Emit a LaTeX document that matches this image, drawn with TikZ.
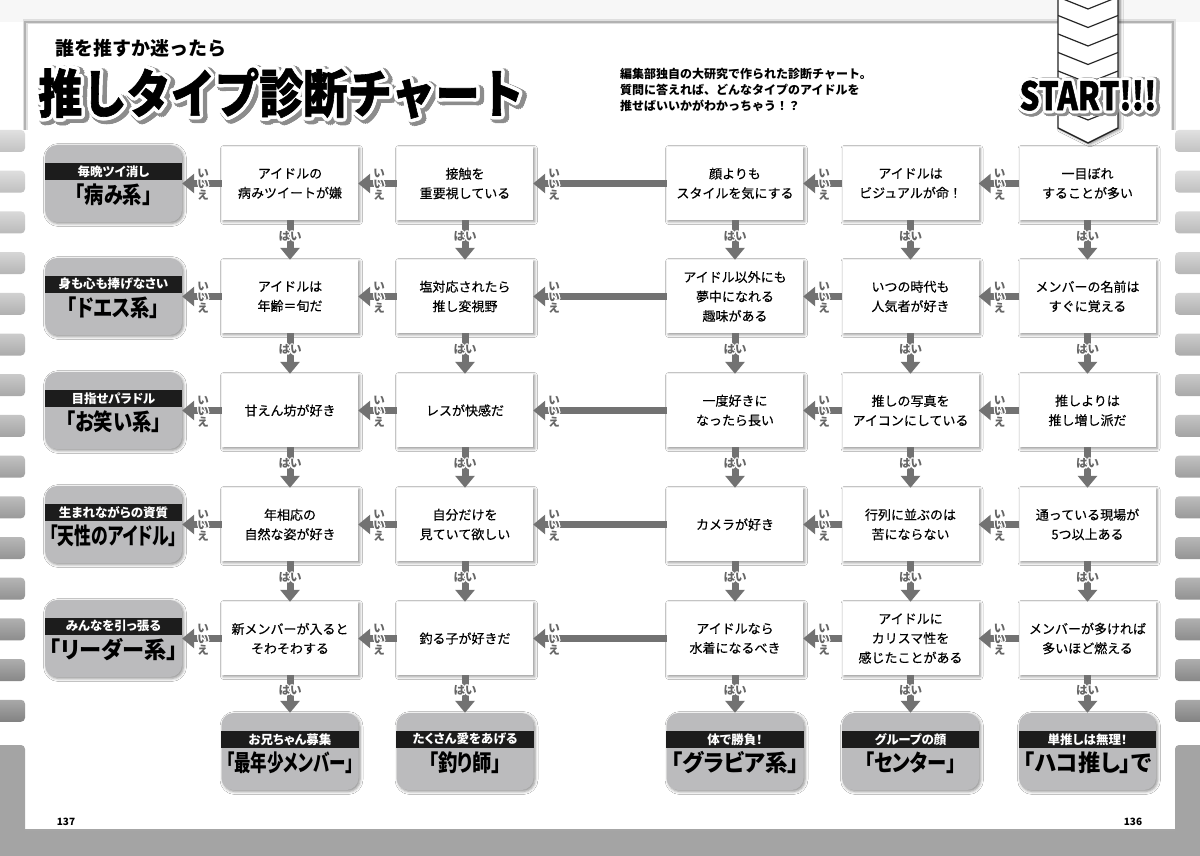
\documentclass[tikz,border=0pt]{standalone}
\usepackage{fontspec}
\usepackage{graphicx}
\usepackage[copies]{contour}
\setmainfont{Noto Sans CJK JP}
\newfontfamily\jp{Noto Sans CJK JP}
\newfontfamily\jph{Noto Sans CJK JP}[BoldFeatures={FakeBold=1.2}]
\newfontfamily\jpq{Noto Sans CJK JP}[FakeBold=0.3]
\newfontfamily\jpp{Noto Sans CJK JP}[RawFeature=+palt]
\usetikzlibrary{arrows.meta,shadows.blur,calc}
\definecolor{arrc}{HTML}{727272}
\definecolor{resc}{HTML}{BBBBBD}
\definecolor{bandc}{HTML}{1C1C1C}
\definecolor{botc}{HTML}{A4A4A4}
\newsavebox\bigbox
\newsavebox\bandbox
\newcommand\bigt[1]{\sbox\bigbox{\jpp\bfseries\fontsize{23}{23}\selectfont #1}\ifdim\wd\bigbox>128pt\resizebox{128pt}{\height}{\usebox\bigbox}\else\scalebox{0.84}[1]{\usebox\bigbox}\fi}
\newcommand\bandt[1]{\sbox\bandbox{\jpp\bfseries\fontsize{12.5}{12.5}\selectfont #1}\ifdim\wd\bandbox>128pt\resizebox{128pt}{\height}{\usebox\bandbox}\else\usebox\bandbox\fi}
\newcommand\labf{\jp\bfseries\fontsize{11.5}{10.5}\selectfont}
\newcommand\ol[1]{\contourlength{1.1pt}\contour{white}{#1}}
\newcommand\ttltext{\scalebox{0.85}[1]{\jph\bfseries\fontsize{52}{52}\selectfont 推しタイプ診断チャート}}
\newcommand\starttext{\scalebox{0.8}[1]{\jph\bfseries\fontsize{39}{39}\selectfont START!!!}}
\begin{document}
\begin{tikzpicture}[x=1pt,y=-1pt,
  qbox/.style={rectangle, fill=white, minimum width=136pt, minimum height=73pt, inner sep=2pt, align=center,
    font=\jpq\fontsize{13}{19.5}\selectfont,
    blur shadow={shadow xshift=1.5pt, shadow yshift=-1.5pt, shadow blur radius=3pt, shadow opacity=45}},
  rbox/.style={rectangle, rounded corners=12pt, fill=resc, minimum width=137pt, minimum height=77pt,
    blur shadow={shadow xshift=1.5pt, shadow yshift=-1.5pt, shadow blur radius=3pt, shadow opacity=45}},
  arr/.style={draw=arrc, line width=7pt, -{Triangle[width=19pt,length=12pt]}},
  hai/.style={font=\labf, text=black!60, inner sep=0pt},
  iie/.style={font=\labf, text=black!60, align=center, inner sep=0pt},
  bandtxt/.style={text=white, inner sep=0pt},
  tab/.style={rounded corners=4pt}]
\useasboundingbox (0,0) rectangle (1200,856);
\fill[white] (0,0) rectangle (1200,856);
\fill[gray!6] (0,0) rectangle (1200,22);
% page and frame
\fill[white] (25,22) rectangle (1173,830);
\draw[gray!25, line width=5pt] (25,130) -- (25,22) -- (1173,22) -- (1173,130);
\draw[gray!60, line width=1.6pt] (25,130) -- (25,22) -- (1173,22) -- (1173,130);
% side tabs
\foreach \i in {0,...,14}{
  \pgfmathsetmacro\ty{130+40.7*\i}
  \pgfmathsetmacro\ca{int(12+1.6*\i)}
  \pgfmathsetmacro\cb{int(24+1.8*\i)}
  \shade[tab, top color=black!\ca, bottom color=black!\cb] (-6,\ty) rectangle (25,\ty+22);
  \shade[tab, top color=black!\ca, bottom color=black!\cb] (1175,\ty) rectangle (1206,\ty+22);
}
\fill[botc, rounded corners=4pt] (-6,745) rectangle (25,870);
\fill[botc, rounded corners=4pt] (1175,745) rectangle (1206,870);
\fill[botc] (0,830) rectangle (1200,856);
\draw[gray!70, line width=1.5pt] (25,830) -- (1175,830);
% title
\node[anchor=west, inner sep=0pt] (sub) at (55,48) {\jp\bfseries\fontsize{19}{19}\selectfont 誰を推すか迷ったら};
\node[anchor=west, inner sep=0pt] (ttlsh) at (41,98) {\color{black!45}\contourlength{5pt}\contour{black!45}{\ttltext}};
\node[anchor=west, inner sep=0pt] (ttl) at (38,95) {\color{black}\contourlength{3.5pt}\contour{white}{\ttltext}};
\node[anchor=north west, inner sep=0pt, align=left, font=\jp\bfseries\fontsize{12}{16}\selectfont] (desc) at (620,68)
  {編集部独自の大研究で作られた診断チャート。\\質問に答えれば、どんなタイプのアイドルを\\推せばいいかがわかっちゃう！？};
% start band
\path[fill=white, blur shadow={shadow xshift=2pt, shadow yshift=-1pt, shadow blur radius=3pt, shadow opacity=50}]
  (1058,-5) -- (1058,128) -- (1088,143) -- (1118,128) -- (1118,-5) -- cycle;
\foreach \y in {-3,15.5,34,52.5,71,89.5,108}{
  \draw[black!85, line width=1.2pt] (1058,\y) -- (1088,\y+12) -- (1118,\y);
}
\draw[black!85, line width=1.4pt] (1058,-5) -- (1058,128) -- (1088,143) -- (1118,128) -- (1118,-5);
\node[inner sep=0pt] (startsh) at (1090,99) {\color{black!45}\contourlength{4.5pt}\contour{black!45}{\starttext}};
\node[inner sep=0pt] (start) at (1088,97) {\color{black}\contourlength{3pt}\contour{white}{\starttext}};
% question boxes
\node[qbox] (q11) at (290,183.5) {アイドルの\\病みツイートが嫌};
\node[qbox] (q12) at (465,183.5) {接触を\\重要視している};
\node[qbox] (q13) at (735,183.5) {顔よりも\\スタイルを気にする};
\node[qbox] (q14) at (910.5,183.5) {アイドルは\\ビジュアルが命！};
\node[qbox] (q15) at (1087.5,183.5) {一目ぼれ\\することが多い};
\node[qbox] (q21) at (290,296.5) {アイドルは\\年齢＝旬だ};
\node[qbox] (q22) at (465,296.5) {塩対応されたら\\推し変視野};
\node[qbox] (q23) at (735,296.5) {アイドル以外にも\\夢中になれる\\趣味がある};
\node[qbox] (q24) at (910.5,296.5) {いつの時代も\\人気者が好き};
\node[qbox] (q25) at (1087.5,296.5) {メンバーの名前は\\すぐに覚える};
\node[qbox] (q31) at (290,410.5) {甘えん坊が好き};
\node[qbox] (q32) at (465,410.5) {レスが快感だ};
\node[qbox] (q33) at (735,410.5) {一度好きに\\なったら長い};
\node[qbox] (q34) at (910.5,410.5) {推しの写真を\\アイコンにしている};
\node[qbox] (q35) at (1087.5,410.5) {推しよりは\\推し増し派だ};
\node[qbox] (q41) at (290,524.5) {年相応の\\自然な姿が好き};
\node[qbox] (q42) at (465,524.5) {自分だけを\\見ていて欲しい};
\node[qbox] (q43) at (735,524.5) {カメラが好き};
\node[qbox] (q44) at (910.5,524.5) {行列に並ぶのは\\苦にならない};
\node[qbox] (q45) at (1087.5,524.5) {通っている現場が\\5つ以上ある};
\node[qbox] (q51) at (290,638.5) {新メンバーが入ると\\そわそわする};
\node[qbox] (q52) at (465,638.5) {釣る子が好きだ};
\node[qbox] (q53) at (735,638.5) {アイドルなら\\水着になるべき};
\node[qbox] (q54) at (910.5,638.5) {アイドルに\\カリスマ性を\\感じたことがある};
\node[qbox] (q55) at (1087.5,638.5) {メンバーが多ければ\\多いほど燃える};
% result boxes
\newcommand\res[5]{%
  \node[rbox] (#1) at (#2,#3) {};
  \fill[bandc] ([yshift=-18pt]#1.north west) rectangle ([yshift=-35pt]#1.north east);
  \node[bandtxt] (#1b) at ([yshift=-26.5pt]#1.north) {\bandt{#4}};
  \node[inner sep=0pt] (#1t) at ([yshift=-50pt]#1.north) {\bigt{#5}};
}
\res{r1}{113.5}{183.5}{毎晩ツイ消し}{「病み系」}
\res{r2}{113.5}{296.5}{身も心も捧げなさい}{「ドエス系」}
\res{r3}{113.5}{410.5}{目指せパラドル}{「お笑い系」}
\res{r4}{113.5}{524.5}{生まれながらの資質}{「天性のアイドル」}
\res{r5}{113.5}{638.5}{みんなを引っ張る}{「リーダー系」}
\res{b1}{290}{751.5}{お兄ちゃん募集}{「最年少メンバー」}
\res{b2}{465}{751.5}{たくさん愛をあげる}{「釣り師」}
\res{b3}{735}{751.5}{体で勝負！}{「グラビア系」}
\res{b4}{910.5}{751.5}{グループの顔}{「センター」}
\res{b5}{1087.5}{751.5}{単推しは無理！}{「ハコ推し」で}
% vertical arrows (はい)
\foreach \c in {1,...,5}{
  \foreach \r/\n in {1/2,2/3,3/4,4/5}{
    \draw[arr] (q\r\c.south) -- (q\n\c.north) node[hai, pos=0.42] {\ol{はい}};
  }
  \draw[arr] (q5\c.south) -- (b\c.north) node[hai, pos=0.42] {\ol{はい}};
}
% horizontal arrows (いいえ)
\foreach \r in {1,...,5}{
  \draw[arr] (q\r5.west) -- (q\r4.east) node[iie, pos=1, xshift=21pt, yshift=-2pt] {\ol{い}\\\ol{い}\\\ol{え}};
  \draw[arr] (q\r4.west) -- (q\r3.east) node[iie, pos=1, xshift=21pt, yshift=-2pt] {\ol{い}\\\ol{い}\\\ol{え}};
  \draw[arr] (q\r3.west) -- (q\r2.east) node[iie, pos=1, xshift=21pt, yshift=-2pt] {\ol{い}\\\ol{い}\\\ol{え}};
  \draw[arr] (q\r2.west) -- (q\r1.east) node[iie, pos=1, xshift=21pt, yshift=-2pt] {\ol{い}\\\ol{い}\\\ol{え}};
  \draw[arr] (q\r1.west) -- (r\r.east) node[iie, pos=1, xshift=21pt, yshift=-2pt] {\ol{い}\\\ol{い}\\\ol{え}};
}
% page numbers
\node[inner sep=0pt] (p137) at (66,822) {\jp\bfseries\fontsize{10}{10}\selectfont 137};
\node[inner sep=0pt] (p136) at (1133,822) {\jp\bfseries\fontsize{10}{10}\selectfont 136};
\end{tikzpicture}
\end{document}
